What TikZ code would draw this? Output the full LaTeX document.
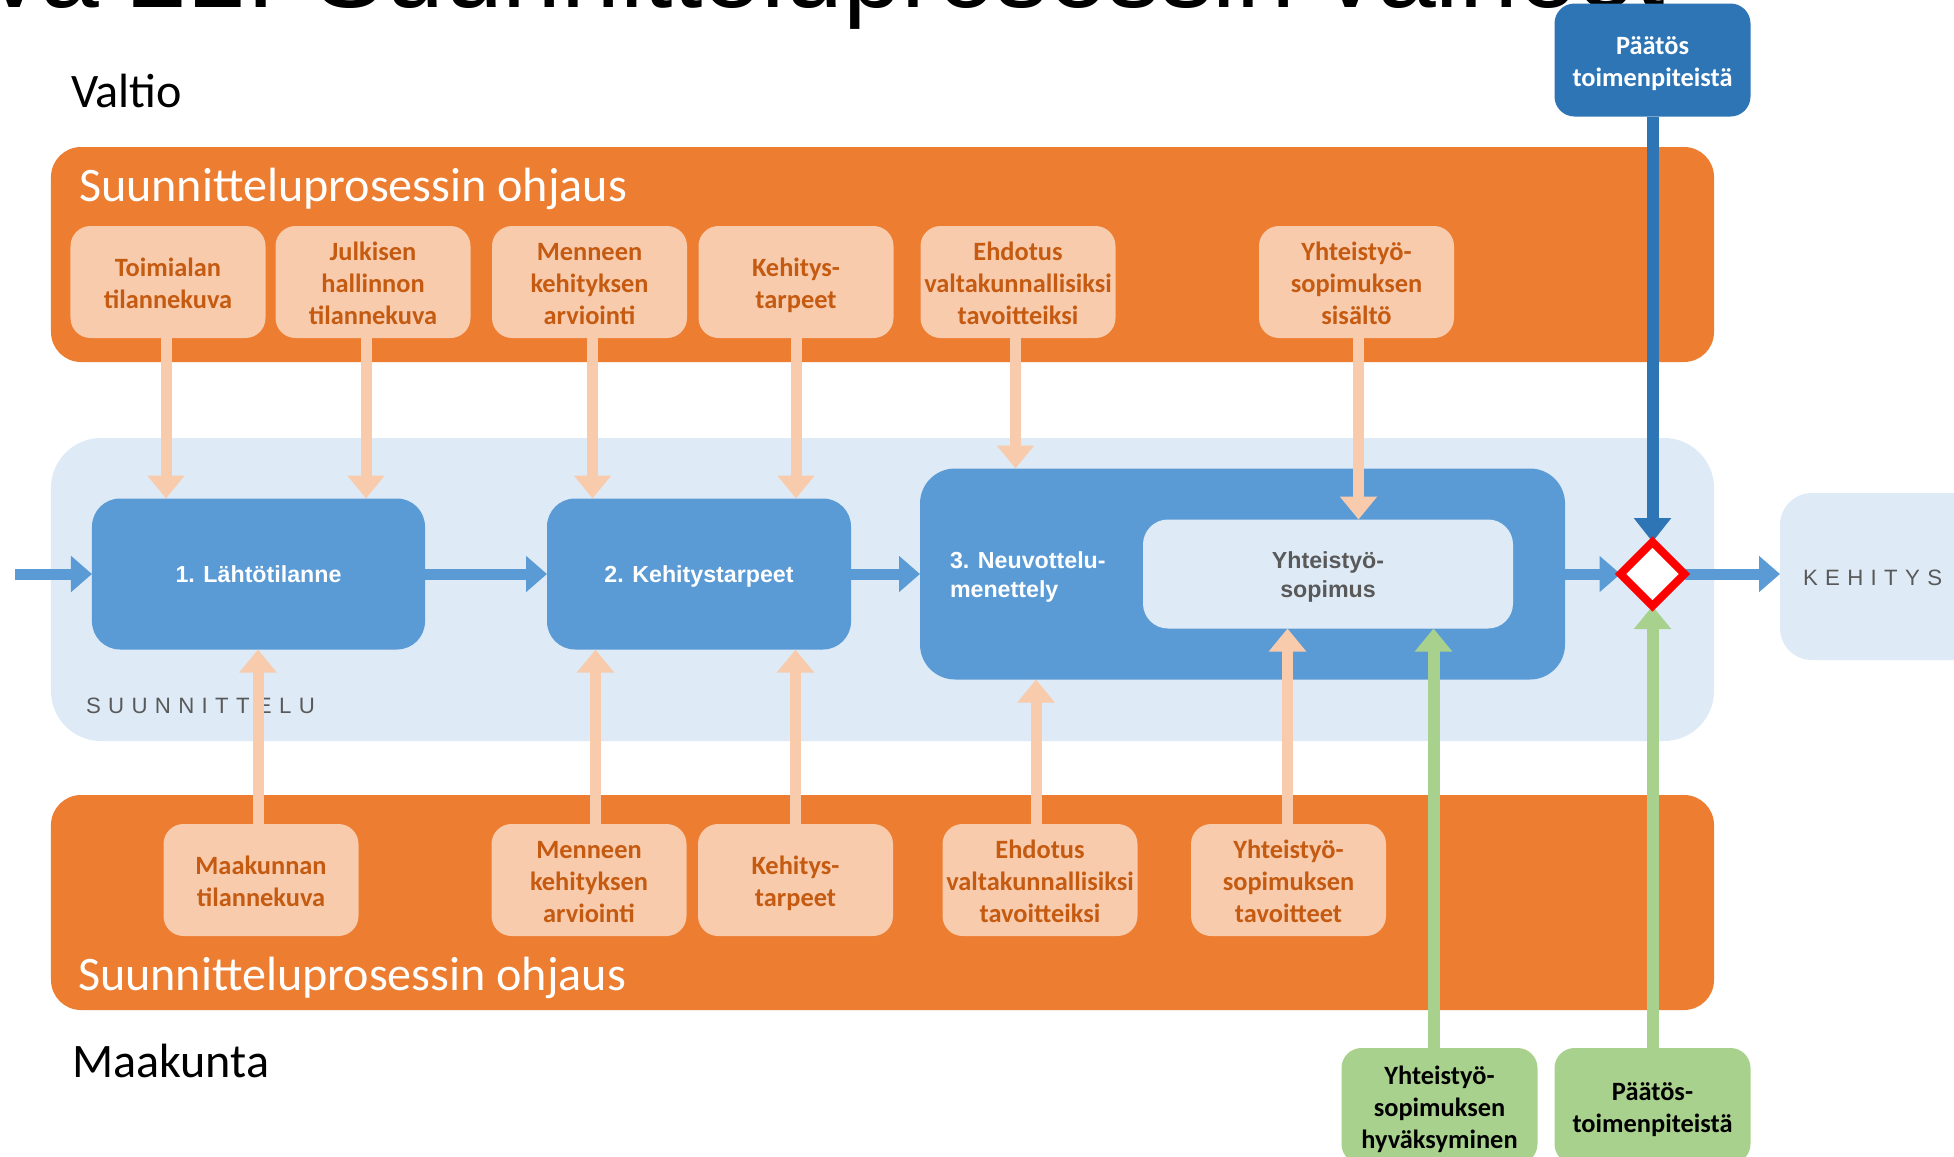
\documentclass[tikz,border=0pt]{standalone}
\usepackage{fontspec}
\setmainfont{Carlito}
\newfontfamily\arialfont{Liberation Sans}
\newfontfamily\spacedfont[LetterSpace=33]{Liberation Sans}
\usetikzlibrary{shapes.geometric,arrows.meta,calc}
\definecolor{orangeband}{HTML}{ED7D31}
\definecolor{peachc}{HTML}{F8CBAD}
\definecolor{peachtext}{HTML}{C55A11}
\definecolor{lightband}{HTML}{DEEBF7}
\definecolor{boxblue}{HTML}{5B9BD5}
\definecolor{darkblue}{HTML}{2E75B6}
\definecolor{greenc}{HTML}{A9D18E}
\definecolor{graytext}{HTML}{595959}
\newcommand\topstrutx{\rule{0pt}{25bp}}
\newcommand\botstrutx{\rule[-4.5bp]{0pt}{4.5bp}}
\pgfdeclarelayer{front}
\pgfsetlayers{main,front}
\begin{document}
\begin{tikzpicture}[x=1bp,y=-1bp,
  every node/.style={outer sep=0pt},
  bandbox/.style={rectangle, rounded corners=30bp, inner sep=0pt, minimum width=1663bp},
  peachbox/.style={rectangle, rounded corners=20bp, fill=peachc, minimum width=195bp, minimum height=112bp, inner sep=0pt, align=center, text=peachtext, font=\bfseries\fontsize{26.5}{32}\selectfont},
  bluebox/.style={rectangle, fill=boxblue, inner sep=0pt, text=white, font=\arialfont\bfseries\fontsize{23.3}{29}\selectfont},
  greenbx/.style={rectangle, rounded corners=20bp, fill=greenc, minimum width=196bp, minimum height=116bp, inner sep=0pt, align=center, text=black, font=\bfseries\fontsize{26.5}{32}\selectfont},
  parrow/.style={draw=peachc, line width=11bp, -{Triangle[width=36bp,length=23bp]}},
  barrow/.style={draw=boxblue, line width=11bp, -{Triangle[width=35bp,length=21bp]}},
  darrow/.style={draw=darkblue, line width=12bp, -{Triangle[width=36bp,length=24bp]}},
  garrow/.style={draw=greenc, line width=12bp, -{Triangle[width=36bp,length=23bp]}},
  bigtext/.style={inner sep=0pt, anchor=base west, font=\fontsize{48.3}{58}\selectfont},
  spaced/.style={inner sep=0pt, anchor=base west, text=graytext, font=\spacedfont\fontsize{22.3}{26}\selectfont}
]
\useasboundingbox (0,0) rectangle (1954,1156);
\fill[white] (0,0) rectangle (1954,1156);

% title (cut off at the top edge, as in the reference)
\node[inner sep=0pt, anchor=base west, font=\arialfont\fontsize{106}{110}\selectfont] (title) at (-141,7) {Kuva 21: Suunnitteluprosessin vaiheet};

\node[bigtext] (valtio) at (71,107) {Valtio};
\node[bigtext] (maakunta) at (72,1077) {Maakunta};

% bands
\node[bandbox, fill=orangeband, minimum height=215bp] (ohjtop) at (882.5,254.5) {};
\node[bandbox, fill=lightband, rounded corners=50bp, minimum height=303bp] (suun) at (882.5,589.5) {};
\node[bandbox, fill=orangeband, minimum height=215bp] (ohjbot) at (882.5,902.5) {};
\node[rectangle, fill=lightband, rounded corners=32bp, minimum width=260bp, minimum height=167bp, inner sep=0pt] (keh) at (1910,576.5) {};

\node[bigtext, text=white] (ohjtoplabel) at (79,201) {Suunnitteluprosessin ohjaus};
\node[bigtext, text=white] (ohjbotlabel) at (78,990) {Suunnitteluprosessin ohjaus};
\node[spaced] (suunlabel) at (86,713) {SUUNNITTELU};
\node[spaced] (kehlabel) at (1803,585) {KEHITYS};

% process boxes
\node[bluebox, rounded corners=28bp, minimum width=333bp, minimum height=151bp, text height=17bp, text depth=0bp] (b1) at (258.5,574) {1. Lähtötilanne};
\node[bluebox, rounded corners=28bp, minimum width=304bp, minimum height=151bp, text height=17bp, text depth=0bp] (b2) at (699,574) {2. Kehitystarpeet};
\node[bluebox, rounded corners=35bp, minimum width=645bp, minimum height=211bp] (b3) at (1242.5,574) {};
\node[inner sep=0pt, anchor=west, align=left, text=white, font=\arialfont\bfseries\fontsize{23.3}{29}\selectfont] (b3label) at (950,577) {3. Neuvottelu-\\menettely};
\node[rectangle, fill=lightband, rounded corners=25bp, minimum width=370bp, minimum height=109bp, inner sep=0pt, align=center, text=graytext, font=\arialfont\bfseries\fontsize{23.3}{29}\selectfont] (inner) at (1328,574) {\rule{0pt}{22bp}Yhteistyö-\\sopimus};

% top peach boxes
\node[peachbox] (t1) at (168,282) {\topstrutx Toimialan\\tilannekuva\botstrutx};
\node[peachbox] (t2) at (373,282) {\topstrutx Julkisen\\hallinnon\\tilannekuva\botstrutx};
\node[peachbox] (t3) at (589.5,282) {\topstrutx Menneen\\kehityksen\\arviointi\botstrutx};
\node[peachbox] (t4) at (796,282) {\topstrutx Kehitys-\\tarpeet\botstrutx};
\node[peachbox] (t5) at (1018,282) {\topstrutx Ehdotus\\valtakunnallisiksi\\tavoitteiksi\botstrutx};
\node[peachbox] (t6) at (1356.5,282) {\topstrutx Yhteistyö-\\sopimuksen\\sisältö\botstrutx};

% bottom peach boxes
\node[peachbox] (m1) at (261,880) {\topstrutx Maakunnan\\tilannekuva\botstrutx};
\node[peachbox] (m2) at (589,880) {\topstrutx Menneen\\kehityksen\\arviointi\botstrutx};
\node[peachbox] (m3) at (795.5,880) {\topstrutx Kehitys-\\tarpeet\botstrutx};
\node[peachbox] (m4) at (1040,880) {\topstrutx Ehdotus\\valtakunnallisiksi\\tavoitteiksi\botstrutx};
\node[peachbox] (m5) at (1288.5,880) {\topstrutx Yhteistyö-\\sopimuksen\\tavoitteet\botstrutx};

% decision boxes
\node[rectangle, rounded corners=20bp, fill=darkblue, minimum width=196bp, minimum height=113bp, inner sep=0pt, align=center, text=white, font=\bfseries\fontsize{26.5}{32}\selectfont] (pd) at (1652.5,60) {\topstrutx Päätös\\toimenpiteistä\botstrutx};
\node[greenbx] (g1) at (1439.5,1106) {\topstrutx Yhteistyö-\\sopimuksen\\hyväksyminen\botstrutx};
\node[greenbx] (g2) at (1652.5,1106) {\topstrutx Päätös-\\toimenpiteistä\botstrutx};

% decision diamond, drawn above its connectors
\begin{pgfonlayer}{front}
\node[diamond, draw=red, fill=white, line width=8bp, minimum width=64bp, minimum height=64bp, inner sep=0pt] (dia) at (1652.5,574) {};
\end{pgfonlayer}

% peach arrows (top)
\draw[parrow] ([xshift=-2bp]t1.south) -- ([xshift=-2bp]t1.south |- b1.north);
\draw[parrow] ([xshift=-7bp]t2.south) -- ([xshift=-7bp]t2.south |- b1.north);
\draw[parrow] ([xshift=3bp]t3.south) -- ([xshift=3bp]t3.south |- b2.north);
\draw[parrow] (t4.south) -- (t4.south |- b2.north);
\draw[parrow] ([xshift=-2.5bp]t5.south) -- ([xshift=-2.5bp]t5.south |- b3.north);
\draw[parrow] ([xshift=2bp]t6.south) -- ([xshift=2bp]t6.south |- inner.north);

% peach arrows (bottom)
\draw[parrow] ([xshift=-3bp]m1.north) -- ([xshift=-3bp]m1.north |- b1.south);
\draw[parrow] ([xshift=6.5bp]m2.north) -- ([xshift=6.5bp]m2.north |- b2.south);
\draw[parrow] (m3.north) -- (m3.north |- b2.south);
\draw[parrow] ([xshift=-4bp]m4.north) -- ([xshift=-4bp]m4.north |- b3.south);
\draw[parrow] ([xshift=-1bp]m5.north) -- ([xshift=-1bp]m5.north |- inner.south);

% flow arrows
\coordinate (start) at (15,574);
\draw[barrow] (start) -- (b1.west);
\draw[barrow] (b1.east) -- (b2.west);
\draw[barrow] (b2.east) -- (b3.west);
\draw[barrow] (b3.east) -- (dia.west);
\draw[barrow] (dia.east) -- (dia.east -| keh.west);

% decision arrows
\draw[darrow] (pd.south) -- (dia.north);
\draw[garrow] ([xshift=-6bp]g1.north) -- ([xshift=-6bp]g1.north |- inner.south);
\draw[garrow] (g2.north) -- (dia.south);
\end{tikzpicture}
\end{document}
